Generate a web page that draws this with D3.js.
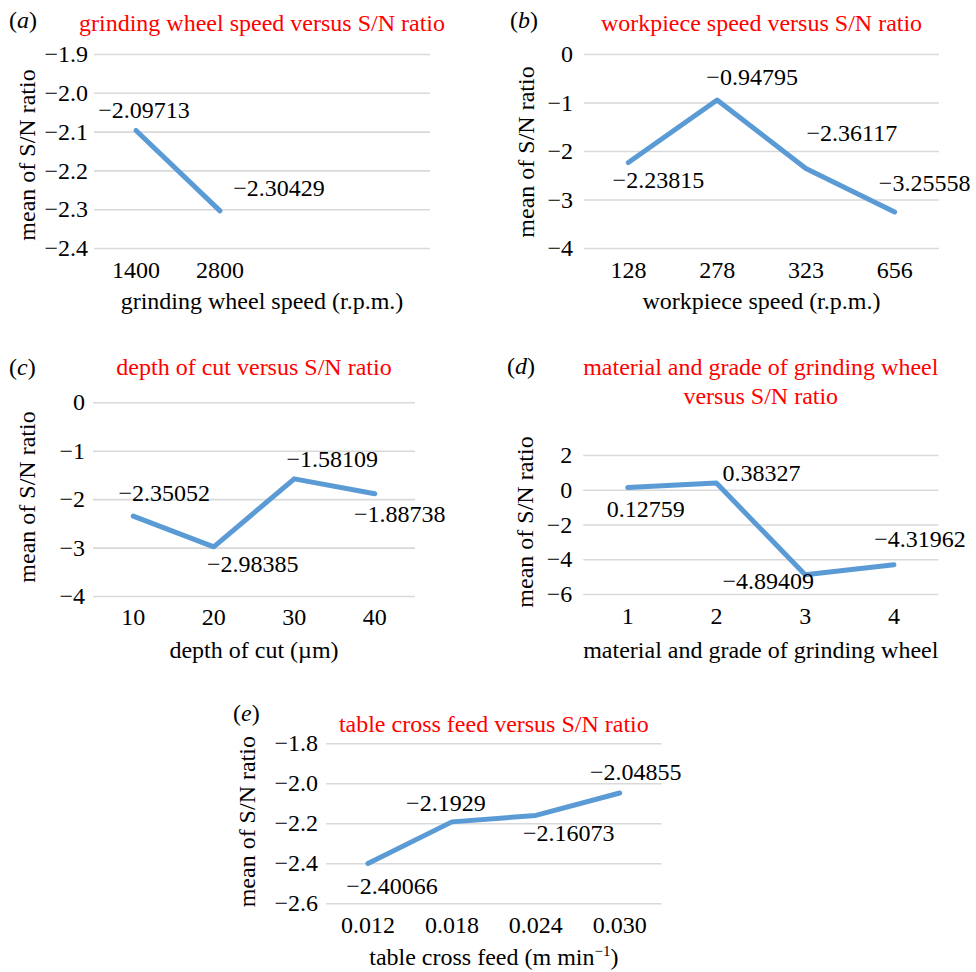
<!DOCTYPE html>
<html>
<head>
<meta charset="utf-8">
<script src="https://cdn.jsdelivr.net/npm/d3@7"></script>
<style>
  body { margin: 0; background: #fff; }
  svg text { font-family: "Liberation Serif", "Times New Roman", serif; }
</style>
</head>
<body>
<div id="chart"></div>
<script>
// Data
const speedCats = ["1400", "2800"];
const speedSN = [-2.09713, -2.30429];
const speedTicks = [-1.9, -2.0, -2.1, -2.2, -2.3, -2.4];

const workCats = ["128", "278", "323", "656"];
const workSN = [-2.23815, -0.94795, -2.36117, -3.25558];
const workTicks = [0, -1, -2, -3, -4];

const depthCats = ["10", "20", "30", "40"];
const depthSN = [-2.35052, -2.98385, -1.58109, -1.88738];
const depthTicks = [0, -1, -2, -3, -4];

const wheelCats = ["1", "2", "3", "4"];
const wheelSN = [0.12759, 0.38327, -4.89409, -4.31962];
const wheelTicks = [2, 0, -2, -4, -6];

const feedCats = ["0.012", "0.018", "0.024", "0.030"];
const feedSN = [-2.40066, -2.1929, -2.16073, -2.04855];
const feedTicks = [-1.8, -2.0, -2.2, -2.4, -2.6];

// Panel layouts
const panels = [
  {tag: "a", cats: speedCats, vals: speedSN, ticks: speedTicks, fmt: ".1f", slots: 4,
   x0: 94, x1: 430, top: 54, bottom: 248, pad: 6,
   title: ["grinding wheel speed versus S/N ratio"], titleY: 23, tagX: 9, tagY: 20,
   ylabX: 27, ylabY: 155, tickY: 270, xTitle: "grinding wheel speed (r.p.m.)", xTitleY: 301,
   offs: [[8, -21], [59, -23]]},
  {tag: "b", cats: workCats, vals: workSN, ticks: workTicks, fmt: "d", slots: 4,
   x0: 584, x1: 939, top: 54, bottom: 248, pad: 11,
   title: ["workpiece speed versus S/N ratio"], titleY: 23, tagX: 510, tagY: 20,
   ylabX: 526, ylabY: 152, tickY: 270, xTitle: "workpiece speed (r.p.m.)", xTitleY: 301,
   offs: [[30, 17], [35, -23], [46, -36], [30, -29]]},
  {tag: "c", cats: depthCats, vals: depthSN, ticks: depthTicks, fmt: "d", slots: 4,
   x0: 93, x1: 415, top: 402.3, bottom: 596, pad: 8,
   title: ["depth of cut versus S/N ratio"], titleY: 366.7, tagX: 9, tagY: 366.7,
   ylabX: 27, ylabY: 497, tickY: 616.7, xTitle: "depth of cut (\u00b5m)", xTitleY: 650,
   offs: [[31, -24], [39, 17], [38, -20], [25, 20]]},
  {tag: "d", cats: wheelCats, vals: wheelSN, ticks: wheelTicks, fmt: "d", slots: 4,
   x0: 583.3, x1: 938.3, top: 455, bottom: 594, pad: 11,
   title: ["material and grade of grinding wheel", "versus S/N ratio"], titleY: 366.7, tagX: 507, tagY: 366,
   ylabX: 525, ylabY: 522, tickY: 616, xTitle: "material and grade of grinding wheel", xTitleY: 650,
   offs: [[18, 21], [45, -10], [-37, 6], [26, -26]]},
  {tag: "e", cats: feedCats, vals: feedSN, ticks: feedTicks, fmt: ".1f", slots: 4,
   x0: 326, x1: 661.7, top: 743.3, bottom: 903.3, pad: 8,
   title: ["table cross feed versus S/N ratio"], titleY: 723.3, tagX: 233, tagY: 712.7,
   ylabX: 246.7, ylabY: 821.7, tickY: 925, xTitle: "table cross feed (m min", xSup: "\u22121", xTitleClose: ")", xTitleY: 956.7,
   offs: [[24, 22], [-6, -19], [33, 17], [16, -21]]}
];

const fontSize = 24;
const svg = d3.select("#chart").append("svg")
    .attr("width", 976)
    .attr("height", 972);

panels.forEach(function (p) {
  const g = svg.append("g");

  const xScale = d3.scaleBand()
      .domain(d3.range(p.slots))
      .range([p.x0, p.x1]);
  const yScale = d3.scaleLinear()
      .domain([d3.min(p.ticks), d3.max(p.ticks)])
      .range([p.bottom, p.top]);
  const cx = i => xScale(i) + xScale.bandwidth() / 2;

  // y axis with gridlines
  const yAxis = g.append("g")
      .attr("transform", "translate(" + p.x0 + ",0)")
      .call(d3.axisLeft(yScale)
        .tickValues(p.ticks)
        .tickSize(-(p.x1 - p.x0))
        .tickPadding(p.pad)
        .tickFormat(d3.format(p.fmt)));
  yAxis.select(".domain").remove();
  yAxis.selectAll("line").attr("stroke", "#d9d9d9").attr("stroke-width", 1.6);
  yAxis.selectAll("text")
      .attr("font-size", fontSize)
      .attr("fill", "#000");

  // x axis labels
  const xAxis = g.append("g")
      .attr("transform", "translate(0," + p.bottom + ")")
      .call(d3.axisBottom(xScale)
        .tickSize(0)
        .tickFormat(i => p.cats[i] || ""));
  xAxis.select(".domain").remove();
  xAxis.selectAll("text")
      .attr("y", p.tickY - p.bottom)
      .attr("dy", "0.35em")
      .attr("font-size", fontSize)
      .attr("fill", "#000");

  // line
  const line = d3.line()
      .x((d, i) => cx(i))
      .y(d => yScale(d));
  g.append("path")
      .datum(p.vals)
      .attr("d", line)
      .attr("fill", "none")
      .attr("stroke", "#5b9bd5")
      .attr("stroke-width", 5)
      .attr("stroke-linejoin", "round")
      .attr("stroke-linecap", "round");

  // data labels
  g.selectAll(".lbl")
      .data(p.vals)
      .enter().append("text")
      .attr("x", (d, i) => cx(i) + p.offs[i][0])
      .attr("y", (d, i) => yScale(d) + p.offs[i][1])
      .attr("dy", "0.35em")
      .attr("text-anchor", "middle")
      .attr("font-size", fontSize)
      .text(d => String(d).replace("-", "\u2212"));

  // title
  const midX = (p.x0 + p.x1) / 2;
  p.title.forEach(function (t, k) {
    g.append("text")
        .attr("x", midX)
        .attr("y", p.titleY + k * 28.5)
        .attr("dy", "0.35em")
        .attr("text-anchor", "middle")
        .attr("font-size", fontSize)
        .attr("fill", "#ff0000")
        .text(t);
  });

  // panel tag
  const tag = g.append("text")
      .attr("x", p.tagX)
      .attr("y", p.tagY)
      .attr("dy", "0.35em")
      .attr("font-size", fontSize);
  tag.append("tspan").text("(");
  tag.append("tspan").attr("font-style", "italic").text(p.tag);
  tag.append("tspan").text(")");

  // y axis title
  g.append("text")
      .attr("transform", "translate(" + p.ylabX + "," + p.ylabY + ") rotate(-90)")
      .attr("dy", "0.35em")
      .attr("text-anchor", "middle")
      .attr("font-size", fontSize)
      .text("mean of S/N ratio");

  // x axis title
  const xt = g.append("text")
      .attr("x", midX)
      .attr("y", p.xTitleY + fontSize * 0.35)
      .attr("text-anchor", "middle")
      .attr("font-size", fontSize)
      .text(p.xTitle);
  if (p.xSup) {
    xt.append("tspan").attr("dy", -9).attr("font-size", 15).text(p.xSup);
    xt.append("tspan").attr("dy", 9).text(p.xTitleClose);
  }
});
</script>
</body>
</html>
